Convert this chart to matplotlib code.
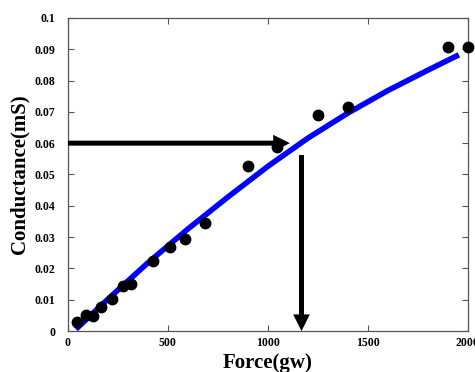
import matplotlib
matplotlib.use("Agg")
import matplotlib.pyplot as plt

# measured points
force = [43, 90, 127, 163, 218, 277, 313, 427, 510, 585, 685, 902, 1048, 1252, 1402, 1902, 2002]
conductance = [0.0030, 0.0051, 0.0048, 0.0077, 0.0102, 0.0144, 0.0150, 0.0225, 0.0267,
               0.0293, 0.0344, 0.0527, 0.0589, 0.0690, 0.0715, 0.0908, 0.0908]

# fitted curve
fit_force = [40, 200, 400, 600, 800, 1000, 1200, 1400, 1600, 1800, 1955]
fit_conductance = [0.0006, 0.0102, 0.0218, 0.0326, 0.0428, 0.0526, 0.0616, 0.0696, 0.0768, 0.0833, 0.0882]

x_ticks = [0, 500, 1000, 1500, 2000]
y_ticks = [0, 0.01, 0.02, 0.03, 0.04, 0.05, 0.06, 0.07, 0.08, 0.09, 0.1]
y_tick_labels = ['0', '0.01', '0.02', '0.03', '0.04', '0.05', '0.06', '0.07', '0.08', '0.09', '0.1']

# arrows reading the target conductance off the curve
target_g = 0.06
arrow_h_end = 1110
arrow_v_x = 1168
arrow_v_top = 0.0562

plt.rcParams['font.family'] = ['Liberation Serif', 'DejaVu Serif']
plt.rcParams['font.weight'] = 'bold'

fig = plt.figure(figsize=(4.75, 3.72), dpi=100)
ax = fig.add_axes([0.143, 0.110, 0.842, 0.842])

ax.plot(fit_force, fit_conductance, color='#0000ff', lw=4.0, solid_capstyle='butt', zorder=2)
ax.plot(force, conductance, 'o', color='black', ms=7.5, zorder=3, clip_on=False)

arrow = dict(arrowstyle='simple,head_length=0.6,head_width=0.6,tail_width=0.18',
             fc='black', ec='black', lw=0, shrinkA=0, shrinkB=0, mutation_scale=20)
ax.annotate('', xy=(arrow_h_end, target_g), xytext=(0, target_g), arrowprops=arrow, zorder=4)
ax.annotate('', xy=(arrow_v_x, 0), xytext=(arrow_v_x, arrow_v_top), arrowprops=arrow, zorder=4)

ax.set_xlim(0, 2000)
ax.set_ylim(0, 0.1)
ax.set_xticks(x_ticks)
ax.set_yticks(y_ticks)
ax.set_yticklabels(y_tick_labels)
ax.tick_params(direction='in', length=4, width=0.8, color='#555555', labelsize=8.5,
               top=True, right=True)
ax.tick_params(axis='x', pad=4)
ax.tick_params(axis='y', pad=9)
for lab in ax.get_xticklabels() + ax.get_yticklabels():
    lab.set_fontweight('bold')
for sp in ax.spines.values():
    sp.set_color('#555555')
    sp.set_linewidth(0.9)

ax.set_xlabel('Force(gw)', fontsize=15, fontweight='bold', labelpad=3)
ax.set_ylabel('Conductance(mS)', fontsize=15, fontweight='bold', labelpad=4)

fig.savefig('out.png', dpi=100)
